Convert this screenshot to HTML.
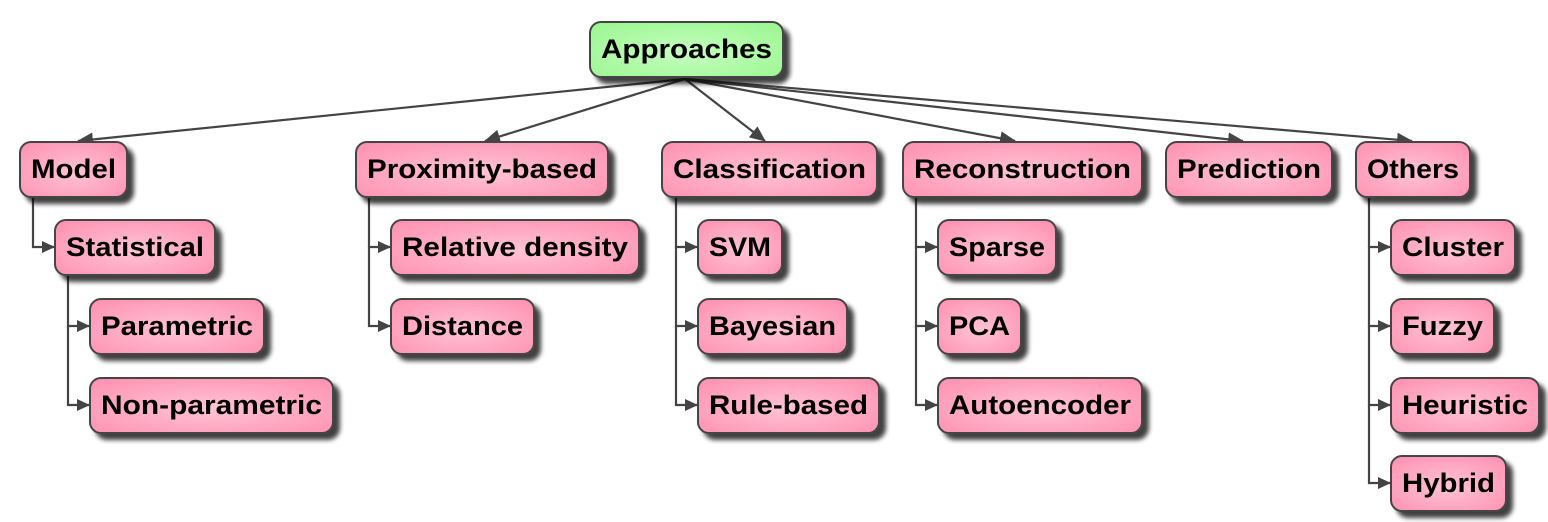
<!DOCTYPE html>
<html><head><meta charset="utf-8"><style>
html,body{margin:0;padding:0;background:#fff;}
svg{display:block}
text{font-family:"Liberation Sans",Arial,sans-serif;font-weight:bold;font-size:27px;fill:#000}
</style></head><body>
<svg width="1548" height="522" viewBox="0 0 1548 522" xmlns="http://www.w3.org/2000/svg">
<defs>
<radialGradient id="pk" cx="50%" cy="55%" r="75%">
<stop offset="0" stop-color="#ffc4d6"/><stop offset="1" stop-color="#ff8db0"/>
</radialGradient>
<radialGradient id="gr" cx="50%" cy="55%" r="75%">
<stop offset="0" stop-color="#c6ffc0"/><stop offset="1" stop-color="#98f58e"/>
</radialGradient>
<filter id="sh" x="-10%" y="-20%" width="130%" height="160%">
<feGaussianBlur in="SourceAlpha" stdDeviation="2.5"/>
<feOffset dx="6" dy="6" result="o"/>
<feComponentTransfer><feFuncA type="linear" slope="0.75"/></feComponentTransfer>
<feMerge><feMergeNode/><feMergeNode in="SourceGraphic"/></feMerge>
</filter>
<marker id="ar" markerWidth="13" markerHeight="12" refX="12" refY="6" orient="auto" markerUnits="userSpaceOnUse">
<path d="M0,0 L13,6 L0,12 z" fill="#444"/>
</marker>
<marker id="ab" markerWidth="16" markerHeight="14" refX="15" refY="7" orient="auto" markerUnits="userSpaceOnUse">
<path d="M0,0 L16,7 L0,14 z" fill="#444"/>
</marker>
</defs>
<g stroke="#444" stroke-width="2.2" fill="none">
<line x1="685" y1="79" x2="78" y2="141" marker-end="url(#ab)"/>
<line x1="685" y1="79" x2="485" y2="141" marker-end="url(#ab)"/>
<line x1="685" y1="79" x2="765" y2="141" marker-end="url(#ab)"/>
<line x1="685" y1="79" x2="1015" y2="141" marker-end="url(#ab)"/>
<line x1="685" y1="79" x2="1243" y2="141" marker-end="url(#ab)"/>
<line x1="685" y1="79" x2="1412" y2="141" marker-end="url(#ab)"/>
<polyline points="33,197 33,247 54,247" marker-end="url(#ar)"/>
<polyline points="68,275 68,326 89,326" marker-end="url(#ar)"/>
<polyline points="68,326 68,405 89,405" marker-end="url(#ar)"/>
<polyline points="369,197 369,247 390,247" marker-end="url(#ar)"/>
<polyline points="369,247 369,326 390,326" marker-end="url(#ar)"/>
<polyline points="676,197 676,247 697,247" marker-end="url(#ar)"/>
<polyline points="676,247 676,326 697,326" marker-end="url(#ar)"/>
<polyline points="676,326 676,405 697,405" marker-end="url(#ar)"/>
<polyline points="916,197 916,247 937,247" marker-end="url(#ar)"/>
<polyline points="916,247 916,326 937,326" marker-end="url(#ar)"/>
<polyline points="916,326 916,405 937,405" marker-end="url(#ar)"/>
<polyline points="1369,197 1369,247 1390,247" marker-end="url(#ar)"/>
<polyline points="1369,247 1369,326 1390,326" marker-end="url(#ar)"/>
<polyline points="1369,326 1369,405 1390,405" marker-end="url(#ar)"/>
<polyline points="1369,405 1369,483 1390,483" marker-end="url(#ar)"/>
</g>
<g stroke="#444" stroke-width="2" filter="url(#sh)">
<rect x="590" y="22" width="193" height="55" rx="11" fill="url(#gr)"/>
<g fill="url(#pk)">
<rect x="20" y="142" width="107" height="55" rx="11"/>
<rect x="356" y="142" width="252" height="55" rx="11"/>
<rect x="662" y="142" width="215" height="55" rx="11"/>
<rect x="903" y="142" width="239" height="55" rx="11"/>
<rect x="1166" y="142" width="166" height="55" rx="11"/>
<rect x="1356" y="142" width="114" height="55" rx="11"/>
<rect x="55" y="220" width="160" height="55" rx="11"/>
<rect x="391" y="220" width="248" height="55" rx="11"/>
<rect x="698" y="220" width="84" height="55" rx="11"/>
<rect x="938" y="220" width="118" height="55" rx="11"/>
<rect x="1391" y="220" width="124" height="55" rx="11"/>
<rect x="90" y="299" width="174" height="55" rx="11"/>
<rect x="391" y="299" width="143" height="55" rx="11"/>
<rect x="698" y="299" width="149" height="55" rx="11"/>
<rect x="938" y="299" width="83" height="55" rx="11"/>
<rect x="1391" y="299" width="103" height="55" rx="11"/>
<rect x="90" y="378" width="243" height="55" rx="11"/>
<rect x="698" y="378" width="181" height="55" rx="11"/>
<rect x="938" y="378" width="204" height="55" rx="11"/>
<rect x="1391" y="378" width="148" height="55" rx="11"/>
<rect x="1391" y="456" width="115" height="55" rx="11"/>
</g>
</g>
<g>
<text x="601" y="58" textLength="171" lengthAdjust="spacingAndGlyphs">Approaches</text>
<text x="31" y="178" textLength="85" lengthAdjust="spacingAndGlyphs">Model</text>
<text x="367" y="178" textLength="230" lengthAdjust="spacingAndGlyphs">Proximity-based</text>
<text x="673" y="178" textLength="193" lengthAdjust="spacingAndGlyphs">Classification</text>
<text x="914" y="178" textLength="217" lengthAdjust="spacingAndGlyphs">Reconstruction</text>
<text x="1177" y="178" textLength="144" lengthAdjust="spacingAndGlyphs">Prediction</text>
<text x="1367" y="178" textLength="92" lengthAdjust="spacingAndGlyphs">Others</text>
<text x="66" y="256" textLength="138" lengthAdjust="spacingAndGlyphs">Statistical</text>
<text x="402" y="256" textLength="226" lengthAdjust="spacingAndGlyphs">Relative density</text>
<text x="709" y="256" textLength="62" lengthAdjust="spacingAndGlyphs">SVM</text>
<text x="949" y="256" textLength="96" lengthAdjust="spacingAndGlyphs">Sparse</text>
<text x="1402" y="256" textLength="102" lengthAdjust="spacingAndGlyphs">Cluster</text>
<text x="101" y="335" textLength="152" lengthAdjust="spacingAndGlyphs">Parametric</text>
<text x="402" y="335" textLength="121" lengthAdjust="spacingAndGlyphs">Distance</text>
<text x="709" y="335" textLength="127" lengthAdjust="spacingAndGlyphs">Bayesian</text>
<text x="949" y="335" textLength="61" lengthAdjust="spacingAndGlyphs">PCA</text>
<text x="1402" y="335" textLength="81" lengthAdjust="spacingAndGlyphs">Fuzzy</text>
<text x="101" y="414" textLength="221" lengthAdjust="spacingAndGlyphs">Non-parametric</text>
<text x="709" y="414" textLength="159" lengthAdjust="spacingAndGlyphs">Rule-based</text>
<text x="949" y="414" textLength="182" lengthAdjust="spacingAndGlyphs">Autoencoder</text>
<text x="1402" y="414" textLength="126" lengthAdjust="spacingAndGlyphs">Heuristic</text>
<text x="1402" y="492" textLength="93" lengthAdjust="spacingAndGlyphs">Hybrid</text>
</g>
</svg>
</body></html>
